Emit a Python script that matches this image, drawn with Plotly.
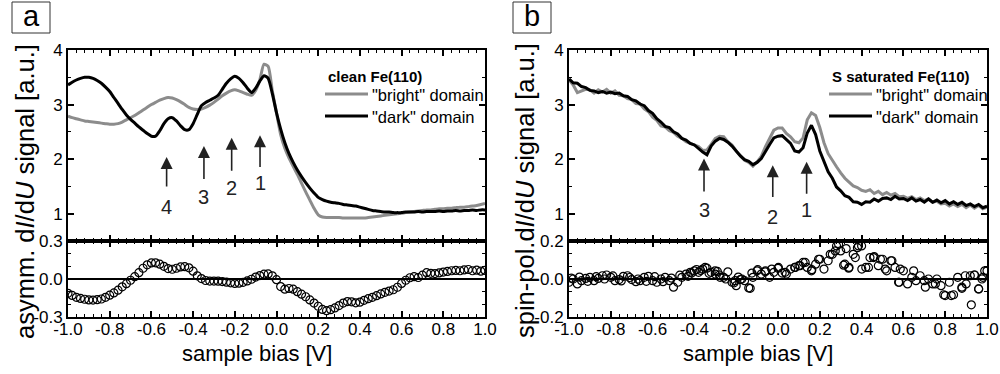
import plotly.graph_objects as go

# ---------------------------------------------------------------- data
# sample bias grid [V], 20 mV steps from -1.0 V to +1.0 V
bias = [round(-1 + 0.02 * i, 2) for i in range(101)]

# (a) clean Fe(110): dI/dU spectra of the two domain types [a.u.]
clean_dark = [
    3.36, 3.41, 3.45, 3.48, 3.50, 3.50, 3.48, 3.44, 3.39, 3.32,
    3.24, 3.13, 3.02, 2.91, 2.81, 2.73, 2.66, 2.59, 2.53, 2.47,
    2.42, 2.42, 2.52, 2.65, 2.74, 2.76, 2.70, 2.61, 2.54, 2.54,
    2.65, 2.82, 2.98, 3.04, 3.08, 3.12, 3.17, 3.28, 3.39, 3.47,
    3.52, 3.48, 3.40, 3.30, 3.22, 3.30, 3.43, 3.53, 3.48, 3.20,
    2.85, 2.55, 2.30, 2.10, 1.94, 1.80, 1.68, 1.57, 1.47, 1.38,
    1.30, 1.26, 1.23, 1.21, 1.20, 1.19, 1.17, 1.16, 1.15, 1.14,
    1.12, 1.10, 1.08, 1.06, 1.05, 1.04, 1.03, 1.03, 1.02, 1.02,
    1.02, 1.03, 1.03, 1.03, 1.04, 1.03, 1.04, 1.04, 1.04, 1.05,
    1.04, 1.05, 1.05, 1.06, 1.05, 1.06, 1.06, 1.07, 1.06, 1.07,
    1.07,
]
clean_bright = [
    2.79, 2.76, 2.74, 2.72, 2.70, 2.69, 2.68, 2.67, 2.66, 2.65,
    2.64, 2.64, 2.65, 2.68, 2.72, 2.76, 2.80, 2.85, 2.90, 2.95,
    3.00, 3.04, 3.08, 3.11, 3.13, 3.12, 3.09, 3.05, 3.00, 2.95,
    2.92, 2.91, 2.92, 2.95, 2.99, 3.04, 3.10, 3.16, 3.21, 3.25,
    3.27, 3.25, 3.22, 3.19, 3.17, 3.26, 3.45, 3.74, 3.70, 3.25,
    2.85, 2.45, 2.20, 2.02, 1.87, 1.72, 1.56, 1.40, 1.25, 1.10,
    0.98, 0.94, 0.93, 0.93, 0.93, 0.93, 0.92, 0.92, 0.92, 0.92,
    0.92, 0.92, 0.93, 0.94, 0.95, 0.96, 0.97, 0.98, 0.99, 1.00,
    1.01, 1.02, 1.03, 1.04, 1.05, 1.06, 1.07, 1.07, 1.08, 1.09,
    1.09, 1.10, 1.10, 1.11, 1.12, 1.12, 1.13, 1.14, 1.15, 1.17,
    1.19,
]
# (a) asymmetry of the two spectra
clean_asym = [
    -0.113, -0.130, -0.145, -0.153, -0.160, -0.165, -0.166, -0.163, -0.158, -0.145,
    -0.128, -0.110, -0.088, -0.062, -0.037, -0.010, 0.018, 0.050, 0.085, 0.112,
    0.127, 0.128, 0.117, 0.100, 0.082, 0.077, 0.085, 0.095, 0.097, 0.088,
    0.062, 0.025, 0.003, -0.012, -0.016, -0.016, -0.017, -0.020, -0.025, -0.030,
    -0.035, -0.033, -0.026, -0.015, -0.002, 0.015, 0.027, 0.038, 0.040, 0.025,
    -0.005, -0.060, -0.080, -0.075, -0.080, -0.100, -0.120, -0.140, -0.165, -0.190,
    -0.215, -0.240, -0.250, -0.242, -0.228, -0.210, -0.190, -0.178, -0.180, -0.188,
    -0.183, -0.168, -0.155, -0.145, -0.132, -0.118, -0.105, -0.095, -0.085, -0.065,
    -0.035, -0.010, 0.010, 0.018, 0.012, 0.030, 0.050, 0.045, 0.043, 0.048,
    0.055, 0.060, 0.065, 0.068, 0.065, 0.072, 0.075, 0.065, 0.070, 0.062,
    0.068,
]

# (b) S saturated Fe(110): dI/dU spectra of the two domain types [a.u.]
sat_dark = [
    3.47, 3.40, 3.39, 3.33, 3.31, 3.26, 3.25, 3.22, 3.24, 3.21,
    3.23, 3.20, 3.21, 3.16, 3.15, 3.09, 3.07, 3.01, 2.98, 2.89,
    2.84, 2.74, 2.68, 2.60, 2.58, 2.50, 2.46, 2.38, 2.35, 2.29,
    2.26, 2.19, 2.13, 2.08, 2.24, 2.33, 2.38, 2.36, 2.31, 2.24,
    2.14, 2.06, 1.99, 1.96, 1.90, 1.94, 2.01, 2.15, 2.27, 2.39,
    2.42, 2.43, 2.36, 2.29, 2.15, 2.13, 2.21, 2.48, 2.62, 2.45,
    2.15, 1.95, 1.77, 1.65, 1.49, 1.42, 1.33, 1.30, 1.22, 1.21,
    1.17, 1.22, 1.21, 1.27, 1.23, 1.28, 1.29, 1.26, 1.32, 1.27,
    1.28, 1.24, 1.29, 1.23, 1.26, 1.21, 1.27, 1.21, 1.25, 1.20,
    1.24, 1.18, 1.22, 1.17, 1.21, 1.15, 1.18, 1.13, 1.17, 1.11,
    1.14,
]
sat_bright = [
    3.45, 3.36, 3.22, 3.25, 3.28, 3.27, 3.21, 3.27, 3.23, 3.28,
    3.21, 3.25, 3.17, 3.16, 3.11, 3.09, 3.02, 3.01, 2.92, 2.87,
    2.77, 2.71, 2.61, 2.59, 2.52, 2.49, 2.42, 2.38, 2.32, 2.29,
    2.26, 2.23, 2.16, 2.17, 2.27, 2.38, 2.42, 2.41, 2.32, 2.26,
    2.15, 2.06, 1.98, 1.94, 1.87, 1.95, 2.05, 2.23, 2.39, 2.53,
    2.57, 2.57, 2.47, 2.41, 2.32, 2.30, 2.39, 2.72, 2.85, 2.80,
    2.58, 2.30, 2.10, 1.97, 1.86, 1.75, 1.65, 1.58, 1.51, 1.48,
    1.43, 1.41, 1.44, 1.37, 1.41, 1.35, 1.39, 1.34, 1.37, 1.31,
    1.32, 1.28, 1.31, 1.26, 1.29, 1.24, 1.27, 1.21, 1.23, 1.18,
    1.19, 1.14, 1.18, 1.13, 1.17, 1.11, 1.16, 1.10, 1.15, 1.09,
    1.12,
]
# (b) spin polarization, one value per grid point ...
sat_spinpol = [
    -0.017, 0.000, -0.026, -0.009, 0.003, 0.009, -0.009, 0.003, 0.017, 0.021,
    0.009, -0.009, -0.003, 0.014, 0.017, -0.003, -0.014, -0.009, 0.009, 0.014,
    -0.009, -0.017, 0.000, 0.009, -0.009, -0.043, -0.017, 0.009, 0.026, 0.035,
    0.043, 0.035, 0.052, 0.057, 0.035, 0.026, 0.021, 0.009, 0.038, -0.017,
    -0.035, -0.003, -0.009, -0.047, 0.009, 0.043, 0.026, 0.043, 0.009, 0.035,
    0.056, 0.031, 0.026, 0.052, 0.061, 0.070, 0.087, 0.061, 0.043, 0.078,
    0.104, 0.052, 0.096, 0.130, 0.174, 0.148, 0.078, 0.061, 0.130, 0.165,
    0.174, 0.061, 0.113, 0.118, 0.070, 0.104, 0.043, 0.096, 0.061, -0.017,
    0.043, -0.026, 0.009, -0.009, 0.017, -0.009, 0.000, -0.026, 0.000, -0.035,
    -0.087, -0.017, -0.083, 0.009, -0.043, -0.026, 0.017, 0.021, -0.052, 0.009,
    0.043,
]
# ... plus the interleaved measurement points between grid values
spinpol_extra_bias = [
    -0.99, -0.95, -0.91, -0.87, -0.83, -0.79, -0.75, -0.71, -0.67, -0.63,
    -0.59, -0.55, -0.51, -0.47, -0.43, -0.413, -0.39, -0.37, -0.349, -0.33,
    -0.301, -0.29, -0.277, -0.25, -0.21, -0.205, -0.19, -0.173, -0.133, -0.125,
    -0.097, -0.061, -0.03, 0.002, 0.034, 0.082, 0.106, 0.13, 0.162, 0.194,
    0.25, 0.274, 0.29, 0.314, 0.326, 0.338, 0.37, 0.385, 0.401, 0.433,
    0.457, 0.49, 0.513, 0.545, 0.577, 0.585, 0.649, 0.705, 0.753, 0.793,
    0.829, 0.88, 0.896, 0.925, 0.94, 0.96, 0.976, 0.989,
]
spinpol_extra = [
    0.005, 0.010, -0.012, 0.012, 0.000, 0.016, -0.010, 0.008, 0.000, -0.012,
    0.012, -0.014, 0.005, 0.020, 0.014, 0.031, 0.050, 0.045, 0.061, 0.030,
    0.043, 0.040, 0.009, 0.000, -0.020, -0.009, 0.010, 0.000, -0.049, 0.031,
    0.049, 0.038, 0.052, 0.061, 0.035, 0.061, 0.070, 0.087, 0.049, 0.104,
    0.130, 0.148, 0.183, 0.073, 0.160, 0.057, 0.113, 0.174, 0.052, 0.061,
    0.113, 0.104, 0.052, 0.096, -0.017, 0.052, 0.043, -0.043, -0.026, -0.083,
    -0.087, -0.049, 0.017, -0.136, 0.021, -0.052, 0.000, 0.043,
]

# peak markers: (bias, label) per panel
peaks_clean = [(-0.527, "4"), (-0.348, "3"), (-0.215, "2"), (-0.079, "1")]
peaks_sat = [(-0.354, "3"), (-0.025, "2"), (0.137, "1")]

x_tick_vals = [-1.0, -0.8, -0.6, -0.4, -0.2, 0.0, 0.2, 0.4, 0.6, 0.8, 1.0]
x_tick_text = ["-1.0", "-0.8", "-0.6", "-0.4", "-0.2", "0.0", "0.2", "0.4", "0.6", "0.8", "1.0"]
didu_tick_vals = [1, 2, 3, 4]
didu_tick_text = ["1", "2", "3", "4"]
asym_tick_vals = [-0.3, 0.0, 0.3]
asym_tick_text = ["-0.3", "0.0", "0.3"]
spin_tick_vals = [-0.2, 0.0, 0.2]
spin_tick_text = ["-0.2", "0.0", "0.2"]

# ---------------------------------------------------------------- style
W, H = 1000, 374
FONT = "Liberation Sans, Arial, sans-serif"
GRAY = "#8c8c8c"
BLACK = "#000000"
INK = "#222222"


def px(x):
    return x / W


def py(y):
    return 1 - y / H


XA = [px(68), px(485)]
XB = [px(569), px(987)]
Y_LOW = [py(317), py(241)]
Y_UP = [py(241), py(50)]


def axis(**kw):
    base = dict(
        showline=True, linecolor=BLACK, linewidth=2, mirror="ticks",
        ticks="inside", ticklen=6, tickwidth=1.5, tickcolor=BLACK,
        showgrid=False, zeroline=False, automargin=False,
        tickfont=dict(family=FONT, size=17, color=BLACK),
    )
    base.update(kw)
    return base


def minor(dtick):
    return dict(ticks="inside", ticklen=3, tickwidth=1, tickcolor=BLACK,
                dtick=dtick, tick0=0, showgrid=False)


fig = go.Figure()

line_a = dict(xaxis="x2", yaxis="y2", mode="lines", showlegend=False, hoverinfo="skip")
fig.add_trace(go.Scatter(x=bias, y=clean_bright, line=dict(color=GRAY, width=3, shape="spline", smoothing=0.6), **line_a))
fig.add_trace(go.Scatter(x=bias, y=clean_dark, line=dict(color=BLACK, width=3, shape="spline", smoothing=0.6), **line_a))
fig.add_trace(go.Scatter(
    x=bias, y=clean_asym, xaxis="x", yaxis="y", mode="markers", showlegend=False,
    marker=dict(symbol="circle-open", size=8, color=BLACK, line=dict(width=1.2)),
))

line_b = dict(xaxis="x4", yaxis="y4", mode="lines", showlegend=False, hoverinfo="skip")
fig.add_trace(go.Scatter(x=bias, y=sat_bright, line=dict(color=GRAY, width=3), **line_b))
fig.add_trace(go.Scatter(x=bias, y=sat_dark, line=dict(color=BLACK, width=3), **line_b))
fig.add_trace(go.Scatter(
    x=bias + spinpol_extra_bias, y=sat_spinpol + spinpol_extra, xaxis="x3", yaxis="y3",
    mode="markers", showlegend=False,
    marker=dict(symbol="circle-open", size=8, color=BLACK, line=dict(width=1.2)),
))

x_common = dict(range=[-1, 1], tickmode="array", tickvals=x_tick_vals, ticktext=x_tick_text,
                minor=minor(0.04), ticklabelstandoff=-4)

fig.update_layout(
    width=W, height=H, margin=dict(l=0, r=0, t=0, b=0, autoexpand=False),
    paper_bgcolor="white", plot_bgcolor="white",
    font=dict(family=FONT, color=BLACK),
    xaxis=axis(domain=XA, anchor="y", **x_common),
    yaxis=axis(domain=Y_LOW, anchor="x", range=[-0.3, 0.3], tickmode="array",
               tickvals=asym_tick_vals, ticktext=asym_tick_text, minor=minor(0.1),
               zeroline=True, zerolinecolor=BLACK, zerolinewidth=1.5),
    xaxis2=axis(domain=XA, anchor="y2", matches="x", showticklabels=False, **x_common),
    yaxis2=axis(domain=Y_UP, anchor="x2", range=[0.5, 4], tickmode="array",
                tickvals=didu_tick_vals, ticktext=didu_tick_text, minor=minor(0.5)),
    xaxis3=axis(domain=XB, anchor="y3", **x_common),
    yaxis3=axis(domain=Y_LOW, anchor="x3", range=[-0.2, 0.2], tickmode="array",
                tickvals=spin_tick_vals, ticktext=spin_tick_text, minor=minor(0.2 / 3),
                zeroline=True, zerolinecolor=BLACK, zerolinewidth=1.5),
    xaxis4=axis(domain=XB, anchor="y4", matches="x3", showticklabels=False, **x_common),
    yaxis4=axis(domain=Y_UP, anchor="x4", range=[0.5, 4], tickmode="array",
                tickvals=didu_tick_vals, ticktext=didu_tick_text, minor=minor(0.5)),
)

annotations = []
shapes = []


def text(x, y, s, size, anchor="center", angle=0, color=BLACK):
    annotations.append(dict(
        x=x, y=y, xref="paper", yref="paper", text=s, showarrow=False,
        xanchor=anchor, yanchor="middle", textangle=angle,
        font=dict(family=FONT, size=size, color=color),
    ))


# panel letters in boxes
for left, letter in ((12, "a"), (513, "b")):
    shapes.append(dict(type="rect", xref="paper", yref="paper",
                       x0=px(left), x1=px(left + 38), y0=py(33), y1=py(2),
                       line=dict(color="#333333", width=1)))
    text(px(left + 19), py(16), letter, 29)

# axis titles
text(px(25), py(192), "asymm. d<i>I</i>/d<i>U</i> signal [a.u.]", 25.5, angle=-90)
text(px(525), py(191), "spin-pol.d<i>I</i>/d<i>U</i> signal [a.u.]", 25.5, angle=-90)
text(px(257), py(353), "sample bias [V]", 22)
text(px(758), py(353), "sample bias [V]", 22)

# legends
for x0, title in ((326, "clean Fe(110)"), (830, "S saturated Fe(110)")):
    text(px(x0), py(76), "<b>" + title + "</b>", 15, anchor="left")
    for yrow, col, lab in ((94, GRAY, '"bright" domain'), (116, BLACK, '"dark" domain')):
        shapes.append(dict(type="line", xref="paper", yref="paper",
                           x0=px(x0 - 1), x1=px(x0 + 42), y0=py(yrow), y1=py(yrow),
                           line=dict(color=col, width=3)))
        text(px(x0 + 44), py(yrow + 1), lab, 16.5, anchor="left")


# arrows marking the spectral features
def mark(xr, yr, xb, head, tail, lab_y, label):
    annotations.append(dict(
        x=xb, y=head, ax=xb, ay=tail, xref=xr, yref=yr, axref=xr, ayref=yr,
        text="", showarrow=True, arrowhead=2, arrowsize=1.5, arrowwidth=1.6,
        arrowcolor=INK,
    ))
    annotations.append(dict(
        x=xb, y=lab_y, xref=xr, yref=yr, text=label, showarrow=False,
        font=dict(family=FONT, size=20, color=INK),
    ))


for (xb, lab), head, tail, ly in zip(peaks_clean, [2.04, 2.24, 2.39, 2.44],
                                     [1.47, 1.61, 1.76, 1.83], [1.12, 1.30, 1.47, 1.56]):
    mark("x2", "y2", xb, head, tail, ly, lab)
for (xb, lab), head, tail, ly in zip(peaks_sat, [2.01, 1.89, 1.95],
                                     [1.38, 1.28, 1.34], [1.06, 0.94, 1.06]):
    mark("x4", "y4", xb, head, tail, ly, lab)

fig.update_layout(annotations=annotations, shapes=shapes)
fig.write_html("out.html")
